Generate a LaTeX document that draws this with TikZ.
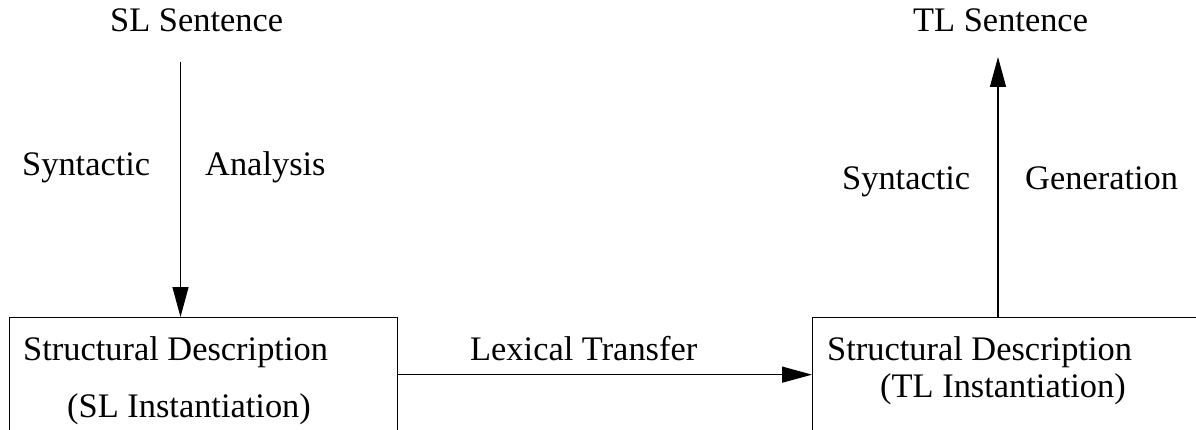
\documentclass[tikz,border=0pt]{standalone}
\usepackage{fontspec}
\setmainfont{Liberation Serif}
\usetikzlibrary{arrows.meta}
\tikzset{
  lbl/.style={inner sep=0pt, anchor=base west, font=\fontsize{34.4}{40}\selectfont},
  box/.style={draw, line width=1.3pt, minimum width=388pt, minimum height=114pt, inner sep=0pt, anchor=north west},
  arr/.style={line width=1.3pt, -{Triangle[length=30pt,width=16pt]}},
}
\begin{document}
\begin{tikzpicture}[x=1pt,y=-1pt]
\useasboundingbox (0,0) rectangle (1196,430);
\clip (0,0) rectangle (1196,430);
\fill[white] (0,0) rectangle (1196,430);
% boxes
\node[box] (lbox) at (9,317) {};
\node[box, minimum width=400pt] (rbox) at (812,317) {};
% texts
\node[lbl] (sls) at (110,32) {SL Sentence};
\node[lbl] (tls) at (913,32) {TL Sentence};
\node[lbl] (syn1) at (22,176) {Syntactic};
\node[lbl] (ana) at (205,176) {Analysis};
\node[lbl] (syn2) at (842,190) {Syntactic};
\node[lbl] (gen) at (1025,190) {Generation};
\node[lbl] (lex) at (470,360) {Lexical Transfer};
\node[lbl] (sd1) at (23,360) {Structural Description};
\node[lbl] (sli) at (67,417) {(SL Instantiation)};
\node[lbl] (sd2) at (827,360) {Structural Description};
\node[lbl] (tli) at (880,397) {(TL Instantiation)};
% connectors
\coordinate (a1s) at (180.5,62);
\coordinate (a2e) at (998,57);
\draw[arr] (a1s) -- (a1s |- lbox.north);
\draw[arr] (a2e |- rbox.north) -- (a2e);
\draw[arr] (lbox.east) -- (rbox.west);
\end{tikzpicture}
\end{document}
